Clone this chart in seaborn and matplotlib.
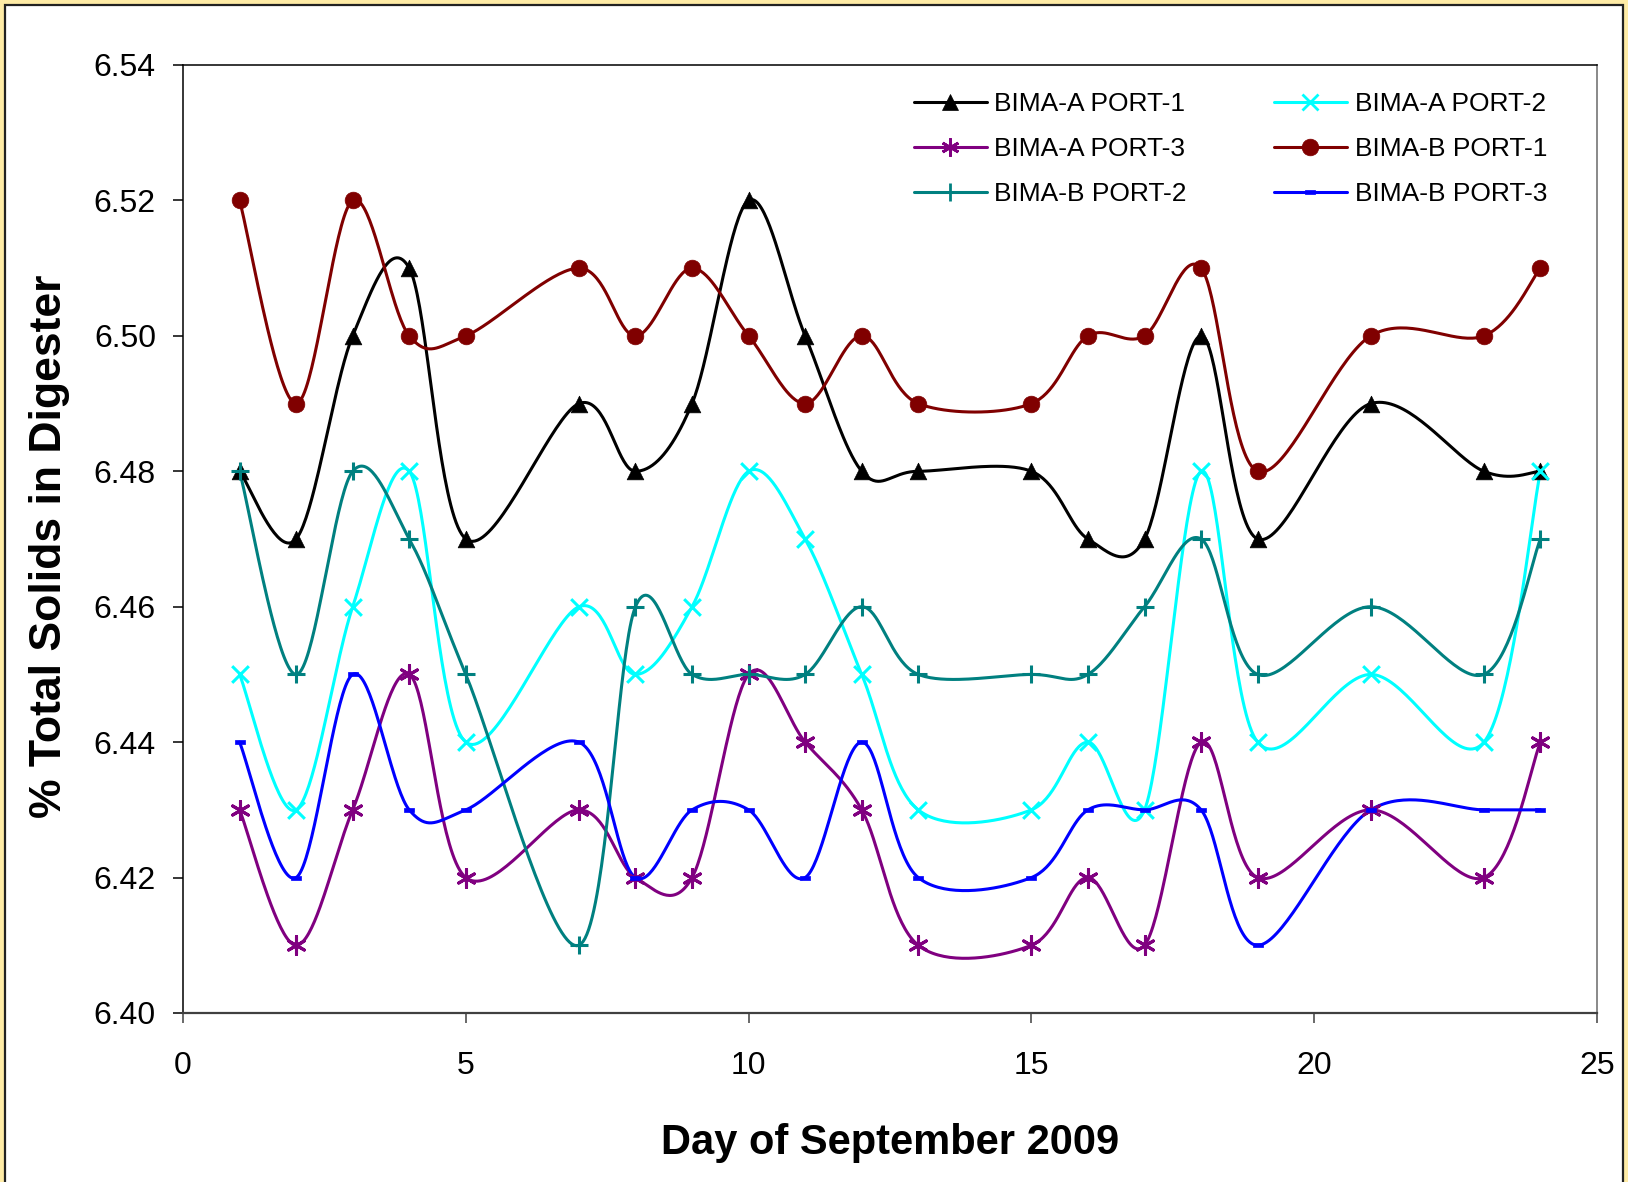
import numpy as np
import pandas as pd
import matplotlib
matplotlib.use("Agg")
import matplotlib.pyplot as plt
import seaborn as sns
from matplotlib.lines import Line2D
from matplotlib.patches import Rectangle
from matplotlib.path import Path

# ---------------- data ----------------
days = [1, 2, 3, 4, 5, 7, 8, 9, 10, 11, 12, 13, 15, 16, 17, 18, 19, 21, 23, 24]
a_port1 = [6.48, 6.47, 6.50, 6.51, 6.47, 6.49, 6.48, 6.49, 6.52, 6.50,
           6.48, 6.48, 6.48, 6.47, 6.47, 6.50, 6.47, 6.49, 6.48, 6.48]
a_port2 = [6.45, 6.43, 6.46, 6.48, 6.44, 6.46, 6.45, 6.46, 6.48, 6.47,
           6.45, 6.43, 6.43, 6.44, 6.43, 6.48, 6.44, 6.45, 6.44, 6.48]
a_port3 = [6.43, 6.41, 6.43, 6.45, 6.42, 6.43, 6.42, 6.42, 6.45, 6.44,
           6.43, 6.41, 6.41, 6.42, 6.41, 6.44, 6.42, 6.43, 6.42, 6.44]
b_port1 = [6.52, 6.49, 6.52, 6.50, 6.50, 6.51, 6.50, 6.51, 6.50, 6.49,
           6.50, 6.49, 6.49, 6.50, 6.50, 6.51, 6.48, 6.50, 6.50, 6.51]
b_port2 = [6.48, 6.45, 6.48, 6.47, 6.45, 6.41, 6.46, 6.45, 6.45, 6.45,
           6.46, 6.45, 6.45, 6.45, 6.46, 6.47, 6.45, 6.46, 6.45, 6.47]
b_port3 = [6.44, 6.42, 6.45, 6.43, 6.43, 6.44, 6.42, 6.43, 6.43, 6.42,
           6.44, 6.42, 6.42, 6.43, 6.43, 6.43, 6.41, 6.43, 6.43, 6.43]

series_names = ["BIMA-A PORT-1", "BIMA-A PORT-2", "BIMA-A PORT-3",
                "BIMA-B PORT-1", "BIMA-B PORT-2", "BIMA-B PORT-3"]
series_values = [a_port1, a_port2, a_port3, b_port1, b_port2, b_port3]
y_ticks = [6.40, 6.42, 6.44, 6.46, 6.48, 6.50, 6.52, 6.54]
x_ticks = [0, 5, 10, 15, 20, 25]
x_label = "Day of September 2009"
y_label = "% Total Solids in Digester"

# ---------------- styles ----------------
colors = {
    "BIMA-A PORT-1": "#000000",
    "BIMA-A PORT-2": "#00FFFF",
    "BIMA-A PORT-3": "#800080",
    "BIMA-B PORT-1": "#800000",
    "BIMA-B PORT-2": "#008080",
    "BIMA-B PORT-3": "#0000FF",
}
rect_marker = Path([(-1, -0.45), (1, -0.45), (1, 0.45), (-1, 0.45), (-1, -0.45)],
                   [Path.MOVETO, Path.LINETO, Path.LINETO, Path.LINETO, Path.CLOSEPOLY])
markers = {
    "BIMA-A PORT-1": ("^", 12, True),
    "BIMA-A PORT-2": ("x", 12, False),
    "BIMA-A PORT-3": ((6, 2, 0), 13, False),
    "BIMA-B PORT-1": ("o", 12, True),
    "BIMA-B PORT-2": ("+", 13, False),
    "BIMA-B PORT-3": (rect_marker, 7.5, True),
}

sns.set_theme(style="white")
plt.rcParams["font.family"] = ["Liberation Sans", "DejaVu Sans"]
plt.rcParams["text.color"] = "black"
plt.rcParams["axes.labelcolor"] = "black"
plt.rcParams["xtick.color"] = "black"
plt.rcParams["ytick.color"] = "black"


def smooth(xs, ys, n=40):
    """Excel-style smoothed line (Catmull-Rom Bezier segments)."""
    p = np.column_stack([xs, ys]).astype(float)
    out = []
    m = len(p)
    for i in range(m - 1):
        p0 = p[i - 1] if i > 0 else p[i]
        p1 = p[i]
        p2 = p[i + 1]
        p3 = p[i + 2] if i + 2 < m else p[i + 1]
        c1 = p1 + (p2 - p0) / 6.0
        c2 = p2 - (p3 - p1) / 6.0
        t = np.linspace(0, 1, n, endpoint=(i == m - 2))[:, None]
        seg = ((1 - t) ** 3) * p1 + 3 * ((1 - t) ** 2) * t * c1 + \
            3 * (1 - t) * t ** 2 * c2 + t ** 3 * p2
        out.append(seg)
    out = np.vstack(out)
    return out[:, 0], out[:, 1]


rows = []
pts = []
for name, vals in zip(series_names, series_values):
    sx, sy = smooth(days, vals)
    for k, (a, b) in enumerate(zip(sx, sy)):
        rows.append({"series": name, "order": k, "day": a, "value": b})
    for d, v in zip(days, vals):
        pts.append({"series": name, "day": d, "value": v})
curve_df = pd.DataFrame(rows)
pts_df = pd.DataFrame(pts)

W, H = 1628, 1182
fig = plt.figure(figsize=(W / 100, H / 100), dpi=100)
fig.patch.set_facecolor("#FFECA6")
fig.patches.append(Rectangle((5 / W, -0.01), (W - 10) / W, (H - 5) / H + 0.01,
                             transform=fig.transFigure, facecolor="white",
                             edgecolor="#222222", linewidth=1.6, zorder=-5))
ax = fig.add_axes([183 / W, 1 - 1013 / H, (1597 - 183) / W, (1013 - 65) / H])
ax.set_zorder(2)
ax.set_facecolor("white")

sns.lineplot(data=curve_df, x="day", y="value", hue="series", units="series",
             estimator=None, sort=False, palette=colors, linewidth=2.2,
             legend=False, ax=ax)

for name in series_names:
    mk, ms, filled = markers[name]
    sub = pts_df[pts_df["series"] == name]
    c = colors[name]
    if filled:
        sns.scatterplot(data=sub, x="day", y="value", marker=mk, s=ms ** 2,
                        color=c, edgecolor=c, linewidth=0.5, ax=ax, zorder=5,
                        legend=False)
    else:
        sns.scatterplot(data=sub, x="day", y="value", marker=mk, s=ms ** 2,
                        color=c, linewidth=2.2, ax=ax, zorder=5, legend=False)

ax.set_xlim(0, 25)
ax.set_ylim(6.40, 6.54)
ax.set_xticks(x_ticks)
ax.set_yticks(y_ticks)
ax.set_yticklabels([f"{v:.2f}" for v in y_ticks])
ax.tick_params(axis="both", which="major", labelsize=23, direction="out",
               length=7.5, width=1.1, labelcolor="#000000", bottom=True, left=True)
ax.tick_params(axis="x", pad=20, color="#404040")
ax.tick_params(axis="y", pad=12, color="#000000")
for s in ["left", "top"]:
    ax.spines[s].set_color("#000000")
    ax.spines[s].set_linewidth(1.1)
ax.spines["bottom"].set_color("#404040")
ax.spines["bottom"].set_linewidth(1.6)
ax.spines["right"].set_color("#808080")
ax.spines["right"].set_linewidth(1.3)
ax.grid(False)

ax.set_xlabel("")
ax.set_ylabel("")
fig.text(890 / W, 1 - 1143 / H, x_label, ha="center", va="center",
         fontsize=30, fontweight="bold", color="black")
fig.text(50 / W, 1 - 546 / H, y_label, ha="center", va="center",
         rotation=90, fontsize=32, fontweight="bold", color="black")

# legend
handles = {}
for name in series_names:
    mk, ms, filled = markers[name]
    c = colors[name]
    handles[name] = Line2D([0], [0], color=c, linewidth=2.2, marker=mk,
                           markersize=ms, markerfacecolor=c, markeredgecolor=c,
                           markeredgewidth=2.0 if not filled else 0.5)
order = ["BIMA-A PORT-1", "BIMA-A PORT-3", "BIMA-B PORT-2",
         "BIMA-A PORT-2", "BIMA-B PORT-1", "BIMA-B PORT-3"]
lprop = {"family": ["Liberation Sans", "DejaVu Sans"], "size": 19}
leg = ax.legend([handles[n] for n in order], order, ncol=2, loc="upper left",
                bbox_to_anchor=(914 / W, 1 - 92 / H),
                bbox_transform=fig.transFigure, frameon=False,
                prop=lprop, handlelength=2.75, handletextpad=0.3,
                columnspacing=3.3, labelspacing=0.8, borderpad=0,
                borderaxespad=0)
for t in leg.get_texts():
    t.set_color("black")

fig.savefig("out.png", dpi=100, facecolor=fig.get_facecolor())
